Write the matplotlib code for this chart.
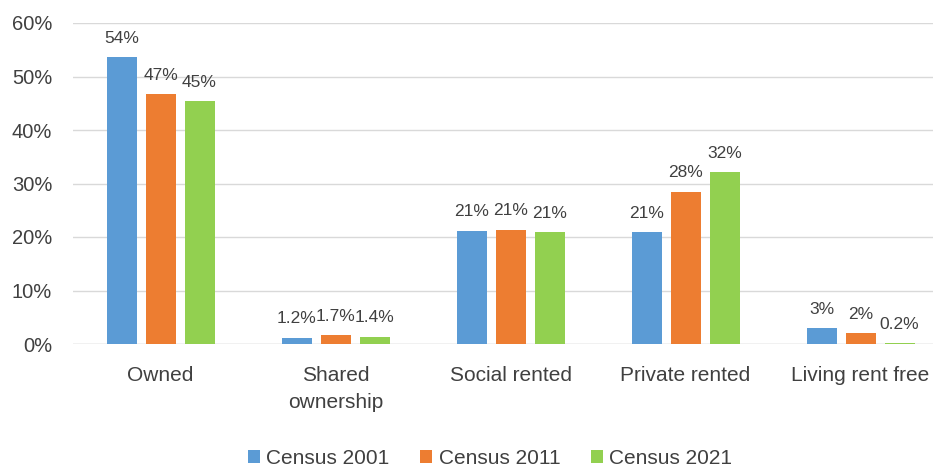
import matplotlib.pyplot as plt
import numpy as np

categories = ["Owned", "Shared\nownership", "Social rented", "Private rented", "Living rent free"]
series = ["Census 2001", "Census 2011", "Census 2021"]
v2001 = [53.6, 1.2, 21.2, 21.0, 3.0]
v2011 = [46.8, 1.7, 21.4, 28.5, 2.0]
v2021 = [45.4, 1.4, 21.0, 32.2, 0.2]
lab2001 = ["54%", "1.2%", "21%", "21%", "3%"]
lab2011 = ["47%", "1.7%", "21%", "28%", "2%"]
lab2021 = ["45%", "1.4%", "21%", "32%", "0.2%"]
colors = ["#5b9bd5", "#ed7d31", "#92d050"]

plt.rcParams['font.family'] = ['Liberation Sans', 'DejaVu Sans']

fig = plt.figure(figsize=(9.33, 4.68), dpi=100)
W, H = 933, 468
# plot area: left 73px, right edge runs past the image (948px), y 23..344
ax = fig.add_axes([73 / W, (H - 344) / H, (933 - 73) / W, 321 / H])

x = np.arange(len(categories))
step = 39 / 175
bw = 30 / 175
for i, (vals, labs) in enumerate(zip([v2001, v2011, v2021], [lab2001, lab2011, lab2021])):
    bars = ax.bar(x + (i - 1) * step, vals, width=bw, color=colors[i], label=series[i], zorder=3)
    for b, lab in zip(bars, labs):
        ax.annotate(lab, (b.get_x() + b.get_width() / 2, b.get_height()),
                    xytext=(0, 8), textcoords="offset points",
                    ha="center", va="bottom", fontsize=12.5, color="#404040")

ax.set_xlim(-0.5, 4.5 - 15 / 175)
ax.set_ylim(0, 60)
ax.set_yticks(range(0, 61, 10))
ax.set_yticklabels([f"{t}%" for t in range(0, 61, 10)])
ax.yaxis.grid(True, color="#d9d9d9", linewidth=1, zorder=0)
for s in ["top", "right", "left", "bottom"]:
    ax.spines[s].set_visible(False)
ax.axhline(0, color="#d9d9d9", linewidth=1, zorder=2)
ax.tick_params(axis="y", length=0, labelsize=14.5, labelcolor="#404040", pad=15)
ax.set_xticks(x)
ax.set_xticklabels(categories, fontsize=15, color="#404040", linespacing=1.55)
ax.tick_params(axis="x", length=0, pad=16)

fig.legend(loc="center", bbox_to_anchor=(490 / W, 1 - 458 / H), ncol=3, frameon=False,
           fontsize=15, handlelength=0.6, handleheight=0.6, handletextpad=0.3,
           columnspacing=1.45, labelcolor="#404040")

fig.savefig("out.png", dpi=100)
